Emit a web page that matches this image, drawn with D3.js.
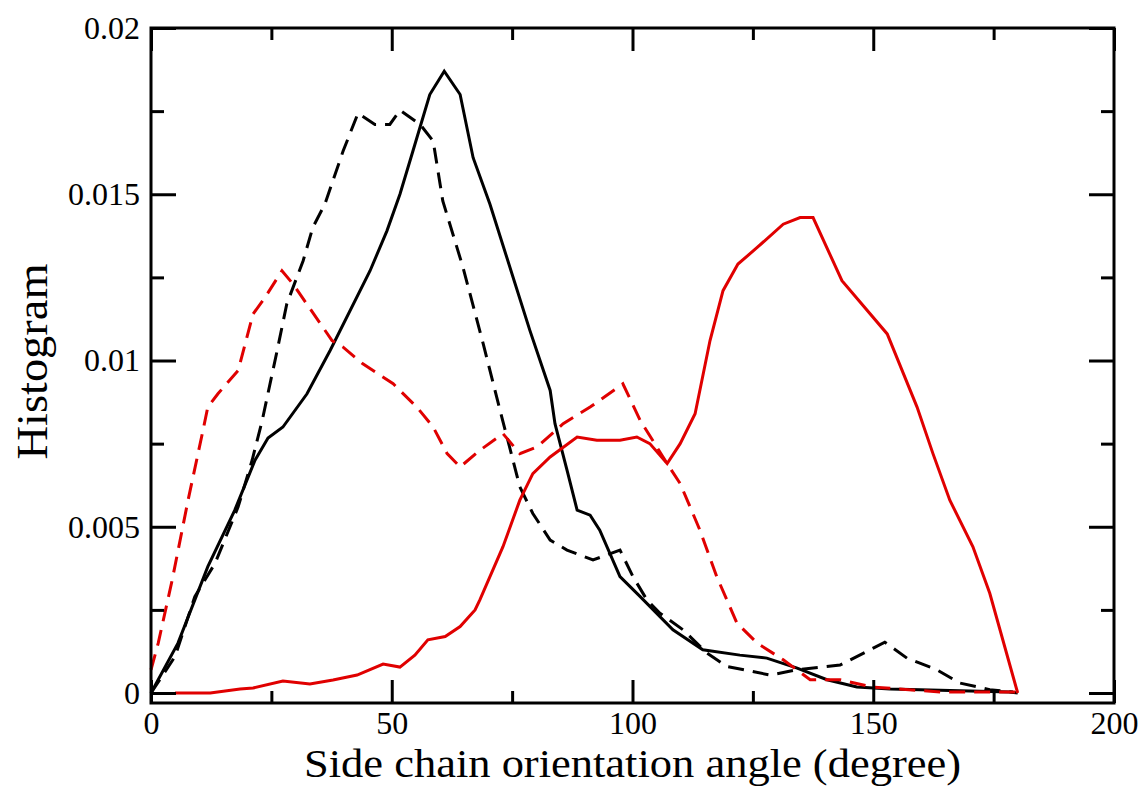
<!DOCTYPE html>
<html>
<head>
<meta charset="utf-8">
<script src="https://cdn.jsdelivr.net/npm/d3@7"></script>
<style>
  html, body { margin: 0; padding: 0; background: #fff; }
  svg { display: block; }
</style>
</head>
<body>
<svg id="chart" width="1147" height="787"></svg>
<script>
// ---- data ----
const xTicksMajor = [0, 50, 100, 150, 200];
const xTicksMinor = [25, 75, 125, 175];
const yTicksMajor = [0, 0.005, 0.01, 0.015, 0.02];
const yTickLabels = ["0", "0.005", "0.01", "0.015", "0.02"];
const yTicksMinor = [0.0025, 0.0075, 0.0125, 0.0175];

const blackSolid = [
  [0, 0], [5.6, 0.0015], [11.8, 0.0038], [17.4, 0.0055], [21.6, 0.0070], [24.3, 0.00767],
  [27.4, 0.0080], [32.4, 0.0090], [37.2, 0.0103], [45.5, 0.0127], [49.0, 0.0139],
  [51.7, 0.0150], [54.4, 0.0163], [57.9, 0.0180], [60.9, 0.0187], [64.2, 0.0180],
  [66.9, 0.0161], [70.4, 0.0147], [78.7, 0.0109], [82.9, 0.0091], [83.9, 0.0081],
  [86.4, 0.0067], [88.5, 0.0055], [91.2, 0.00535], [93.2, 0.0049], [97.4, 0.0035],
  [101.6, 0.0029], [108.4, 0.0019], [114.6, 0.0013], [122.3, 0.00114], [127.9, 0.00105],
  [134.2, 0.00075], [140.4, 0.0004], [146.6, 0.00018], [153.5, 0.00012], [178.4, 0.00003],
  [180, 0]
];

const blackDashed = [
  [0, 0], [5.0, 0.0011], [9.1, 0.0029], [13.3, 0.0039], [18.1, 0.0056], [21.0, 0.0070],
  [23.1, 0.0082], [26.2, 0.0103], [28.2, 0.0117], [31.6, 0.0130], [33.6, 0.0140],
  [36.1, 0.0147], [39.9, 0.0163], [43.0, 0.01744], [46.5, 0.0171], [49.6, 0.0171],
  [51.7, 0.01753], [55.9, 0.0171], [58.6, 0.0166], [60.6, 0.0148], [64.8, 0.0128],
  [69.0, 0.0105], [72.5, 0.0085], [76.6, 0.0062], [79.3, 0.0054], [82.9, 0.0046],
  [86.4, 0.0043], [91.8, 0.0040], [97.4, 0.0043], [100.1, 0.0035], [103.0, 0.0028],
  [105.7, 0.0024], [110.5, 0.0019], [115.5, 0.0012], [119.6, 0.0008], [128.6, 0.00054],
  [134.2, 0.0007], [143.1, 0.00084], [150.0, 0.00135], [152.4, 0.00153], [157.0, 0.00105],
  [163.2, 0.0007], [168.0, 0.0003], [174.2, 0.0001], [179.0, 0.00003]
];

const redSolid = [
  [5.0, 0], [12.3, 0], [18.5, 0.00012], [21.2, 0.00015], [27.4, 0.00036], [33.0, 0.00027],
  [37.8, 0.00039], [42.8, 0.00054], [48.2, 0.00087], [51.7, 0.00078], [54.8, 0.00114],
  [57.5, 0.0016], [61.1, 0.0017], [64.2, 0.0020], [67.3, 0.0025], [68.3, 0.0028],
  [73.1, 0.0044], [76.6, 0.0058], [79.3, 0.0066], [82.9, 0.0071], [88.5, 0.0077],
  [92.6, 0.0076], [97.4, 0.0076], [100.9, 0.0077], [103.6, 0.0075], [107.2, 0.0069],
  [109.9, 0.0075], [113.0, 0.0084], [116.1, 0.0106], [118.8, 0.0121], [121.9, 0.0129],
  [125.9, 0.0134], [131.3, 0.0141], [134.8, 0.0143], [137.5, 0.0143], [143.5, 0.0124],
  [152.9, 0.0108], [159.1, 0.0086], [162.4, 0.0072], [165.9, 0.0058], [170.7, 0.0044],
  [174.2, 0.0030], [180, 0]
];

const redDashed = [
  [0, 0.0007], [1.5, 0.0015], [4.4, 0.0034], [7.7, 0.0058], [10.8, 0.0079], [11.8, 0.0086],
  [13.9, 0.0090], [18.1, 0.0097], [21.2, 0.0114], [23.7, 0.0119], [27.2, 0.0127],
  [29.5, 0.0123], [37.6, 0.0106], [39.9, 0.0104], [44.0, 0.0099], [50.3, 0.0093],
  [55.2, 0.0086], [58.6, 0.0080], [61.5, 0.0072], [64.2, 0.0068], [68.3, 0.0073],
  [73.1, 0.0078], [76.6, 0.0072], [80.2, 0.0074], [85.6, 0.0081], [91.2, 0.0086],
  [98.0, 0.0093], [101.6, 0.0082], [107.2, 0.0069], [109.9, 0.0063], [114.0, 0.0049],
  [117.5, 0.0035], [121.7, 0.0021], [125.9, 0.0015], [131.3, 0.0010], [136.9, 0.0004],
  [143.1, 0.0004], [149.9, 0.00018], [163.9, 0.00003], [180, 0.00003]
];

const xTitle = "Side chain orientation angle (degree)";
const yTitle = "Histogram";

// ---- layout ----
const L = 151, R = 1114, T = 28, B = 703;
const FONT = "'Liberation Serif', 'Times New Roman', Times, serif";
const RED = "#e00000";

const svg = d3.select("#chart");
const x = d3.scaleLinear().domain([0, 200]).range([L, R]);
const y = d3.scaleLinear().domain([-0.0003, 0.02]).range([B, T]);

const line = d3.line().x(d => x(d[0])).y(d => y(d[1]));

const series = [
  { data: blackSolid, color: "#000", dash: null },
  { data: blackDashed, color: "#000", dash: "16,9" },
  { data: redSolid, color: RED, dash: null },
  { data: redDashed, color: RED, dash: "16,9" }
];

svg.append("g").selectAll("path").data(series).join("path")
  .attr("d", s => line(s.data))
  .attr("fill", "none")
  .attr("stroke", s => s.color)
  .attr("stroke-width", 3)
  .attr("stroke-linejoin", "miter")
  .attr("stroke-dasharray", s => s.dash);

function styleAxis(g) {
  g.select(".domain").remove();
  g.selectAll(".tick line").attr("stroke", "#000").attr("stroke-width", 3);
  g.selectAll(".tick text").attr("fill", "#000").style("font-family", FONT).style("font-size", "32px");
}

// bottom
svg.append("g").attr("transform", `translate(0,${B})`)
  .call(d3.axisBottom(x).tickValues(xTicksMajor).tickSize(-23).tickPadding(8).tickFormat(d3.format("d")))
  .call(styleAxis);
svg.append("g").attr("transform", `translate(0,${B})`)
  .call(d3.axisBottom(x).tickValues(xTicksMinor).tickSize(-12).tickFormat(""))
  .call(styleAxis);
// top
svg.append("g").attr("transform", `translate(0,${T})`)
  .call(d3.axisTop(x).tickValues(xTicksMajor).tickSize(-23).tickFormat(""))
  .call(styleAxis);
svg.append("g").attr("transform", `translate(0,${T})`)
  .call(d3.axisTop(x).tickValues(xTicksMinor).tickSize(-12).tickFormat(""))
  .call(styleAxis);
// left
svg.append("g").attr("transform", `translate(${L},0)`)
  .call(d3.axisLeft(y).tickValues(yTicksMajor).tickSize(-25).tickPadding(11)
    .tickFormat((d, i) => yTickLabels[i]))
  .call(styleAxis);
svg.append("g").attr("transform", `translate(${L},0)`)
  .call(d3.axisLeft(y).tickValues(yTicksMinor).tickSize(-13).tickFormat(""))
  .call(styleAxis);
// right
svg.append("g").attr("transform", `translate(${R},0)`)
  .call(d3.axisRight(y).tickValues(yTicksMajor).tickSize(-25).tickFormat(""))
  .call(styleAxis);
svg.append("g").attr("transform", `translate(${R},0)`)
  .call(d3.axisRight(y).tickValues(yTicksMinor).tickSize(-13).tickFormat(""))
  .call(styleAxis);

// frame
svg.append("rect")
  .attr("x", L).attr("y", T).attr("width", R - L).attr("height", B - T)
  .attr("fill", "none").attr("stroke", "#000").attr("stroke-width", 3);

// titles
svg.append("text")
  .attr("x", (L + R) / 2).attr("y", 777)
  .attr("text-anchor", "middle")
  .style("font-family", FONT).style("font-size", "41px")
  .attr("textLength", 657).attr("lengthAdjust", "spacingAndGlyphs")
  .text(xTitle);

svg.append("text")
  .attr("transform", `translate(47,${(T + B) / 2 - 4}) rotate(-90)`)
  .attr("text-anchor", "middle")
  .style("font-family", FONT).style("font-size", "44px")
  .attr("textLength", 196).attr("lengthAdjust", "spacingAndGlyphs")
  .text(yTitle);
</script>
</body>
</html>
